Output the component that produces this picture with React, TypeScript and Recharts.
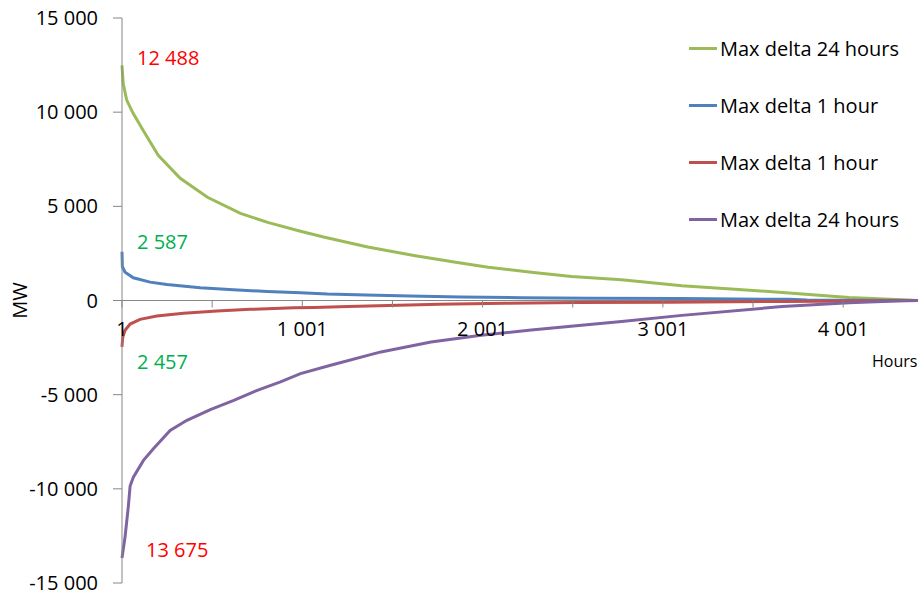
import {
  LineChart,
  Line,
  XAxis,
  YAxis,
  ReferenceLine,
  ReferenceDot,
  Legend,
} from "recharts";

const FONT = '"Open Sans", sans-serif';

// duration curves (hours sorted, MW)
const up24Hours = [1, 8, 27, 62, 118, 202, 324, 475, 658, 809, 991, 1119, 1364, 1620, 1843, 2032, 2271, 2494, 2772, 3106, 3400, 3663, 4034, 4330, 4416];
const up24MW = [12488, 11500, 10640, 9950, 9040, 7710, 6490, 5480, 4630, 4150, 3680, 3370, 2840, 2390, 2040, 1770, 1505, 1280, 1100, 780, 600, 425, 160, 40, 0];

const up1Hours = [1, 3, 18, 64, 157, 250, 435, 619, 806, 991, 1140, 1353, 1600, 1880, 2216, 2606, 3100, 3700, 3800, 4416];
const up1MW = [2587, 1800, 1506, 1206, 975, 851, 674, 567, 479, 408, 340, 290, 235, 185, 150, 115, 100, 60, 20, 0];

const down1Hours = [1, 5, 18, 46, 101, 194, 342, 528, 713, 955, 1066, 1255, 1478, 1760, 2122, 2530, 3034, 3663, 4100, 4416];
const down1MW = [-2457, -1950, -1580, -1250, -1000, -820, -680, -560, -470, -390, -370, -320, -270, -200, -150, -110, -90, -50, -20, 0];

const down24Hours = [1, 18, 36, 46, 64, 120, 175, 268, 361, 491, 621, 751, 880, 991, 1158, 1437, 1715, 1993, 2271, 2550, 2772, 3106, 3663, 4034, 4330, 4416];
const down24MW = [-13675, -12550, -10950, -9850, -9380, -8490, -7870, -6900, -6360, -5790, -5300, -4770, -4320, -3880, -3440, -2730, -2200, -1840, -1570, -1310, -1120, -790, -320, -120, -10, 0];

const seriesNames = ["Max delta 24 hours", "Max delta 1 hour", "Max delta 1 hour", "Max delta 24 hours"];
const peakValues = [12488, 2587, -2457, -13675];

const yTicks = [-15000, -10000, -5000, 0, 5000, 10000, 15000];
const xTickHours = [1, 501, 1001, 1501, 2001, 2501, 3001, 3501, 4001];
const xLabelHours = [1, 1001, 2001, 3001, 4001];

const toRows = (hours: number[], mw: number[]) => hours.map((h, i) => ({ h, v: mw[i] }));

const series = [
  { name: seriesNames[0], data: toRows(up24Hours, up24MW), color: "#9BBB59" },
  { name: seriesNames[1], data: toRows(up1Hours, up1MW), color: "#4F81BD" },
  { name: seriesNames[2], data: toRows(down1Hours, down1MW), color: "#C0504D" },
  { name: seriesNames[3], data: toRows(down24Hours, down24MW), color: "#8064A2" },
];
const seriesColors = series.map((s) => s.color);

// label styling for the peak notes (same order as peakValues)
const noteStyle = [
  { color: "#FF0000", dx: 15, dy: -7 },
  { color: "#00B050", dx: 15, dy: -10 },
  { color: "#00B050", dx: 15, dy: 15 },
  { color: "#FF0000", dx: 24, dy: -8 },
];

const fmt = (v: number) => {
  const s = Math.abs(v).toString().replace(/\B(?=(\d{3})+(?!\d))/g, " ");
  return v < 0 ? "-" + s : s;
};

const AXIS = "#868686";

function LegendBox({ payload }: any) {
  // keep the series order, not the alphabetical one
  const items = [...(payload || [])].sort(
    (a: any, b: any) => seriesColors.indexOf(a.color) - seriesColors.indexOf(b.color)
  );
  return (
    <div style={{ fontFamily: FONT, fontSize: 20, color: "#000" }}>
      {items.map((p: any, i: number) => (
        <div key={i} style={{ display: "flex", alignItems: "center", height: 57 }}>
          <span style={{ display: "inline-block", width: 28, height: 3, background: p.color, marginRight: 3 }} />
          <span style={{ whiteSpace: "nowrap" }}>{p.value}</span>
        </div>
      ))}
    </div>
  );
}

export default function App() {
  return (
    <div style={{ position: "fixed", left: 0, top: 0, background: "#fff" }}>
      <LineChart width={920} height={594} margin={{ top: 18, right: 2, bottom: 11, left: 0 }}>
        <XAxis type="number" dataKey="h" domain={[1, 4416]} hide allowDuplicatedCategory={false} />
        <YAxis
          type="number"
          domain={[-15000, 15000]}
          ticks={yTicks}
          interval={0}
          width={122}
          tickFormatter={fmt}
          tickSize={9}
          tickMargin={15}
          axisLine={{ stroke: AXIS }}
          tickLine={{ stroke: AXIS }}
          tick={{ fill: "#000", fontSize: 20, fontFamily: FONT }}
          label={{
            content: ({ viewBox }: any) => (
              <text
                x={viewBox.x + 27}
                y={viewBox.y + viewBox.height / 2}
                transform={`rotate(-90 ${viewBox.x + 27} ${viewBox.y + viewBox.height / 2})`}
                textAnchor="middle"
                fontSize={20}
                fontFamily={FONT}
                fill="#000"
              >
                MW
              </text>
            ),
          }}
        />
        <ReferenceLine
          y={0}
          stroke={AXIS}
          strokeWidth={1}
          label={{
            content: ({ viewBox }: any) => (
              <text
                x={viewBox.x + viewBox.width - 46}
                y={viewBox.y + 66}
                fontSize={16}
                fontFamily={FONT}
                fill="#000"
              >
                Hours
              </text>
            ),
          }}
        />
        {xTickHours.map((h) => (
          <ReferenceDot
            key={"t" + h}
            x={h}
            y={0}
            r={2}
            shape={(p: any) => (
              <g>
                <line x1={p.cx} y1={p.cy} x2={p.cx} y2={p.cy + 7} stroke={AXIS} />
                {xLabelHours.includes(h) && (
                  <text
                    x={p.cx}
                    y={p.cy + 28}
                    dy="0.355em"
                    textAnchor="middle"
                    fontSize={20}
                    fontFamily={FONT}
                    fill="#000"
                  >
                    {fmt(h)}
                  </text>
                )}
              </g>
            )}
          />
        ))}
        {series.map((s) => (
          <Line
            key={s.color}
            data={s.data}
            dataKey="v"
            name={s.name}
            type="linear"
            stroke={s.color}
            strokeWidth={3}
            dot={false}
            isAnimationActive={false}
          />
        ))}
        {peakValues.map((v, i) => (
          <ReferenceDot
            key={"n" + i}
            x={1}
            y={v}
            r={2}
            shape={(p: any) => (
              <text
                x={p.cx + noteStyle[i].dx}
                y={p.cy + noteStyle[i].dy}
                dy="0.355em"
                fontSize={20}
                fontFamily={FONT}
                fill={noteStyle[i].color}
              >
                {fmt(Math.abs(v))}
              </text>
            )}
          />
        ))}
        <Legend
          layout="vertical"
          align="center"
          verticalAlign="middle"
          content={<LegendBox />}
          wrapperStyle={{ left: 689, top: 20, width: 231, height: 230 }}
        />
      </LineChart>
    </div>
  );
}
